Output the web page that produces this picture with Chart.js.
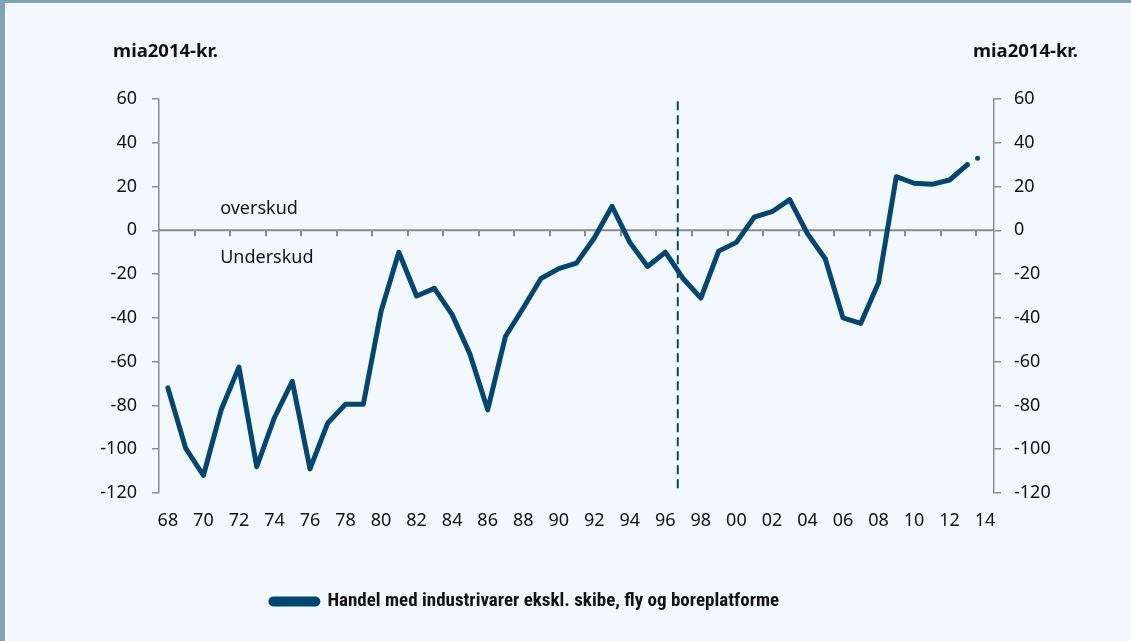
<!DOCTYPE html>
<html>
<head>
<meta charset="utf-8">
<script src="https://cdn.jsdelivr.net/npm/chart.js@4.4.1/dist/chart.umd.min.js"></script>
<style>
  html, body { margin: 0; padding: 0; background: #f3f8fc; }
  #frame {
    position: absolute; left: 0; top: 0; width: 1131px; height: 641px;
    box-sizing: border-box;
    border-top: 3px solid #7fa3bb;
    border-left: 5px solid #7fa3bb;
  }
  #frame::after {
    content: ''; position: absolute; left: 0; top: 7px; bottom: 0; width: 2px; background: #ffffff;
  }
  #wrap { position: absolute; left: 0; top: 0; width: 1131px; height: 641px; }
</style>
</head>
<body>
<div id="frame"></div>
<div id="wrap"><canvas id="chart" width="1131" height="641"></canvas></div>
<script>
// categories: 1968 .. 2014
const years = ['68','69','70','71','72','73','74','75','76','77','78','79',
  '80','81','82','83','84','85','86','87','88','89',
  '90','91','92','93','94','95','96','97','98','99',
  '00','01','02','03','04','05','06','07','08','09',
  '10','11','12','13','14'];

// mia. 2014-kr., last value (2014) is a forecast shown dotted
const tradeBalance = [-72, -99.5, -112, -82, -62.5, -108, -85.5, -69, -109, -88,
  -79.5, -79.5, -37, -10, -30, -26.5, -38.5, -56.5, -82, -48.5,
  -35.5, -22, -17.5, -15, -3.5, 11, -5.5, -16.5, -10, -22,
  -31, -9.5, -5.5, 6, 8.5, 14, -1.5, -13, -40, -42.5,
  -24, 24.5, 21.5, 21, 23, 30, 35];

const yTicks = [-120, -100, -80, -60, -40, -20, 0, 20, 40, 60];
const seriesName = 'Handel med industrivarer ekskl. skibe, fly og boreplatforme';
const unitLabel = 'mia2014-kr.';
const dividerAt = 28.7;   // between 96 and 97
const overText = 'overskud';
const underText = 'Underskud';

const navy = '#03466f';
const axisGrey = '#8c8c8c';
const tickFont = { family: '"Noto Sans", "Open Sans", sans-serif', size: 18 };

const lastIdx = tradeBalance.length - 1;

// zero line with tick marks, divider, axis units and text labels
const extras = {
  id: 'extras',
  beforeDatasetsDraw(chart) {
    const { ctx, chartArea, scales } = chart;
    const x = scales.x, y = scales.y;
    const y0 = y.getPixelForValue(0);
    const step = x.getPixelForValue(1) - x.getPixelForValue(0);
    ctx.save();
    ctx.strokeStyle = axisGrey;
    ctx.lineWidth = 2;
    ctx.beginPath();
    ctx.moveTo(chartArea.left, y0);
    ctx.lineTo(chartArea.right, y0);
    for (let i = 2; i < years.length; i += 2) {
      const px = Math.round(x.getPixelForValue(i) - step / 2);
      ctx.moveTo(px, y0);
      ctx.lineTo(px, y0 + 6);
    }
    ctx.stroke();

    // dashed divider
    const dx = x.getPixelForValue(Math.floor(dividerAt)) + (dividerAt % 1) * step;
    ctx.strokeStyle = navy;
    ctx.lineWidth = 2;
    ctx.setLineDash([9, 5]);
    ctx.beginPath();
    ctx.moveTo(dx, y.getPixelForValue(59));
    ctx.lineTo(dx, chartArea.bottom);
    ctx.stroke();
    ctx.setLineDash([]);

    // text
    ctx.fillStyle = '#111';
    ctx.font = '18px "Noto Sans", "Open Sans", sans-serif';
    ctx.textBaseline = 'middle';
    ctx.textAlign = 'left';
    ctx.fillText(overText, x.getPixelForValue(3) - 1, y.getPixelForValue(10));
    ctx.fillText(underText, x.getPixelForValue(3) - 1, y.getPixelForValue(-12.5));

    ctx.font = 'bold 18.5px "Noto Sans", "Open Sans", sans-serif';
    ctx.textAlign = 'right';
    ctx.fillText(unitLabel, chartArea.left + 59, 52);
    ctx.textAlign = 'left';
    ctx.fillText(unitLabel, chartArea.right - 21, 52);
    ctx.restore();
  }
};

new Chart(document.getElementById('chart'), {
  type: 'line',
  data: {
    labels: years,
    datasets: [{
      label: seriesName,
      data: tradeBalance,
      borderColor: navy,
      backgroundColor: navy,
      borderWidth: 5,
      borderCapStyle: 'round',
      borderJoinStyle: 'round',
      pointRadius: 0,
      tension: 0,
      segment: {
        borderDash: ctx => ctx.p1DataIndex === lastIdx ? [0, 12] : undefined
      }
    }]
  },
  options: {
    responsive: false,
    animation: false,
    layout: { padding: { left: 0, right: 81, top: 99, bottom: 20 } },
    plugins: {
      tooltip: { enabled: false },
      legend: {
        position: 'bottom',
        labels: {
          boxWidth: 47,
          boxHeight: 5,
          useBorderRadius: true,
          borderRadius: 2.5,
          padding: 10,
          color: '#111',
          font: { family: '"Roboto Condensed", Lato, sans-serif', size: 19, weight: 'bold' }
        }
      }
    },
    scales: {
      x: {
        offset: true,
        grid: { display: false, drawTicks: false },
        border: { display: false },
        ticks: {
          autoSkip: false,
          maxRotation: 0,
          padding: 17,
          color: '#111',
          font: tickFont,
          callback: function (val, i) { return i % 2 === 0 ? years[i] : ''; }
        },
        afterFit: s => { s.height = 89; }
      },
      y: {
        position: 'left',
        min: -120, max: 60,
        afterBuildTicks: s => { s.ticks = yTicks.map(v => ({ value: v })); },
        grid: { drawOnChartArea: false, color: axisGrey, tickLength: 7, lineWidth: 1.5 },
        border: { color: axisGrey, width: 1.5 },
        ticks: { padding: 15, color: '#111', font: tickFont },
        afterFit: s => { s.width = 159; }
      },
      y2: {
        position: 'right',
        min: -120, max: 60,
        afterBuildTicks: s => { s.ticks = yTicks.map(v => ({ value: v })); },
        grid: { drawOnChartArea: false, color: axisGrey, tickLength: 7, lineWidth: 1.5 },
        border: { color: axisGrey, width: 1.5 },
        ticks: { padding: 13, color: '#111', font: tickFont },
        afterFit: s => { s.width = 56; }
      }
    }
  },
  plugins: [extras]
});
</script>
</body>
</html>
